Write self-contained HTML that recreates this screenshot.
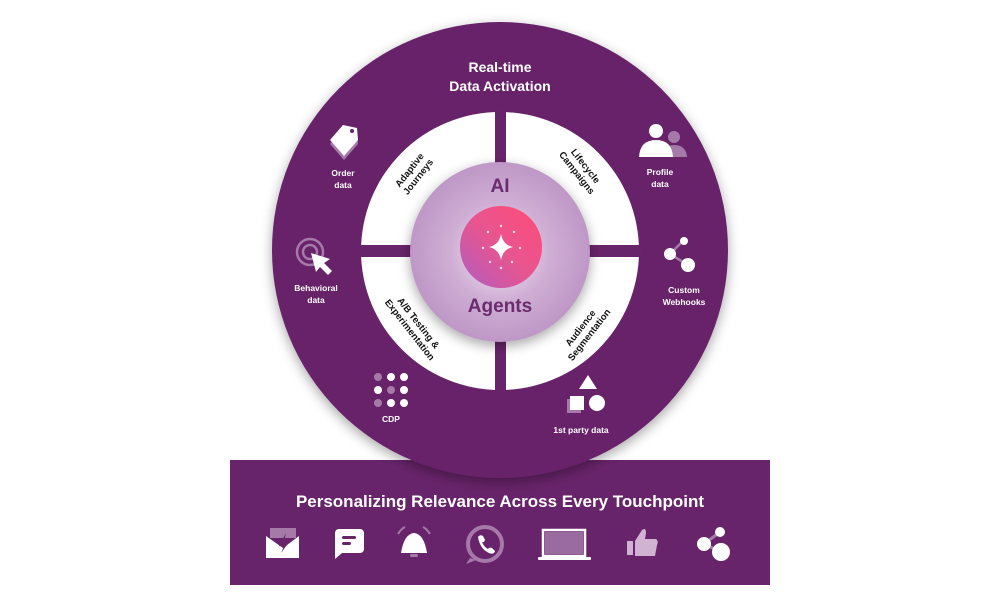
<!DOCTYPE html>
<html><head><meta charset="utf-8"><style>
html,body{margin:0;padding:0;background:#fff;width:1000px;height:600px;overflow:hidden}
svg{display:block;font-family:"Liberation Sans",sans-serif;font-weight:bold}
</style></head><body>
<svg width="1000" height="600" viewBox="0 0 1000 600">
<defs>
<radialGradient id="inner" cx="50%" cy="50%" r="50%">
<stop offset="0" stop-color="#f4ecf5"/><stop offset="0.55" stop-color="#cfaed4"/><stop offset="1" stop-color="#be97c6"/>
</radialGradient>
<linearGradient id="pink" x1="1" y1="0" x2="0" y2="1">
<stop offset="0" stop-color="#ff4b77"/><stop offset="0.5" stop-color="#e8558f"/><stop offset="1" stop-color="#b05cc0"/>
</linearGradient>
<filter id="sh" x="-20%" y="-20%" width="140%" height="140%"><feDropShadow dx="0" dy="4" stdDeviation="6" flood-color="#000" flood-opacity="0.35"/></filter>
</defs>
<rect x="230" y="460" width="540" height="125" fill="#68246a"/>
<circle cx="500" cy="250" r="228" fill="#68246a" filter="url(#sh)"/>
<circle cx="500" cy="251" r="139" fill="#fff"/>
<rect x="495" y="110" width="11" height="282" fill="#68246a"/>
<rect x="360" y="245" width="282" height="12" fill="#68246a"/>
<circle cx="500" cy="252" r="90" fill="url(#inner)" filter="url(#sh)"/>
<circle cx="501" cy="247" r="41" fill="url(#pink)"/>
<path d="M501 234 Q503 245 513 247 Q503 249 501 260 Q499 249 489 247 Q499 245 501 234Z" fill="#fff"/>
<g fill="#fff" opacity="0.8">
<circle cx="488" cy="232" r="1.2"/><circle cx="514" cy="232" r="1.2"/><circle cx="483" cy="248" r="1.2"/><circle cx="520" cy="248" r="1.2"/><circle cx="490" cy="262" r="1.2"/><circle cx="512" cy="262" r="1.2"/><circle cx="501" cy="226" r="1.2"/><circle cx="501" cy="268" r="1.2"/></g>
<text x="500" y="192" text-anchor="middle" font-size="19" fill="#6b2c6d">AI</text>
<text x="500" y="312" text-anchor="middle" font-size="19" fill="#6b2c6d">Agents</text>
<g font-size="9.5" fill="#111" text-anchor="middle">
<text transform="translate(412,172) rotate(-52)"><tspan x="0" y="0">Adaptive</tspan><tspan x="0" y="11">Journeys</tspan></text>
<text transform="translate(583,168) rotate(52)"><tspan x="0" y="0">Lifecycle</tspan><tspan x="0" y="11">Campaigns</tspan></text>
<text transform="translate(416,325) rotate(52)"><tspan x="0" y="0">A/B Testing &amp;</tspan><tspan x="0" y="11">Experimentation</tspan></text>
<text transform="translate(583,330) rotate(-52)"><tspan x="0" y="0">Audience</tspan><tspan x="0" y="11">Segmentation</tspan></text>
</g>
<g fill="#fff" text-anchor="middle">
<text x="500" y="72" font-size="14">Real-time</text>
<text x="500" y="91" font-size="14">Data Activation</text>
<g font-size="8.5">
<text x="343" y="176">Order</text><text x="343" y="188">data</text>
<text x="316" y="291">Behavioral</text><text x="316" y="303">data</text>
<text x="391" y="422">CDP</text>
<text x="660" y="175">Profile</text><text x="660" y="187">data</text>
<text x="684" y="293">Custom</text><text x="684" y="305">Webhooks</text>
<text x="581" y="433">1st  party data</text>
</g>
<text x="500" y="507" font-size="17">Personalizing Relevance Across Every Touchpoint</text>
</g>
<!-- outer icons -->
<g fill="#fff">
<path d="M330 140 L343 125 L357 128 L358 140 L344 156Z" fill="#a57aa8" transform="translate(0,4)"/>
<path d="M330 140 L343 125 L357 128 L358 140 L344 156Z"/>
<circle cx="352" cy="131" r="2" fill="#68246a"/>
<circle cx="310" cy="252" r="13" fill="none" stroke="#a57aa8" stroke-width="2.5"/>
<circle cx="310" cy="252" r="7" fill="none" stroke="#a57aa8" stroke-width="2.5"/>
<path d="M311 253 L330 259 L324 263 L332 271 L328 275 L320 267 L316 272Z"/>
<circle cx="378" cy="377" r="4" fill="#a57aa8"/><circle cx="391" cy="377" r="4"/><circle cx="404" cy="377" r="4"/>
<circle cx="378" cy="390" r="4"/><circle cx="391" cy="390" r="4" fill="#a57aa8"/><circle cx="404" cy="390" r="4"/>
<circle cx="378" cy="403" r="4" fill="#a57aa8"/><circle cx="391" cy="403" r="4"/><circle cx="404" cy="403" r="4"/>
<circle cx="674" cy="137" r="6" fill="#a57aa8"/><path d="M663 157 Q664 145 674 145 Q686 145 687 157Z" fill="#a57aa8"/>
<circle cx="656" cy="131" r="7"/><path d="M639 157 Q640 140 656 140 Q672 140 673 157Z"/>
<path d="M670 254 L682 242 M670 254 L688 265" stroke="#a57aa8" stroke-width="2.5"/>
<circle cx="670" cy="254" r="6"/><circle cx="684" cy="241" r="4"/><circle cx="688" cy="265" r="7"/>
<path d="M588 375 L597 389 L579 389Z"/>
<rect x="567" y="399" width="14" height="14" fill="#a57aa8"/><rect x="570" y="396" width="14" height="14"/>
<circle cx="597" cy="403" r="8"/>
</g>
<!-- bottom icons -->
<g fill="#fff">
<rect x="270" y="528" width="26" height="10" fill="#a57aa8"/>
<path d="M266 536 L283 548 L299 536 L299 558 L266 558Z"/>
<path d="M286 533 L279 546 L284 546 L281 553 L289 542 L284 542Z" fill="#68246a"/>
<path d="M336 529 h24 a4 4 0 0 1 4 4 v16 a4 4 0 0 1 -4 4 h-18 l-7 6 v-26 a4 4 0 0 1 4 -4Z"/>
<rect x="342" y="536" width="14" height="3" rx="1.5" fill="#68246a"/><rect x="342" y="542" width="9" height="3" rx="1.5" fill="#68246a"/>
<path d="M401 553 Q404 534 414 533 Q424 534 427 553Z"/>
<path d="M398 534 Q401 529 405 527 M430 534 Q427 529 423 527" stroke="#a57aa8" stroke-width="2" fill="none"/>
<rect x="410" y="554" width="8" height="3" rx="1.5" fill="#a57aa8"/>
<circle cx="485" cy="544" r="17" fill="none" stroke="#a57aa8" stroke-width="4"/>
<path d="M470 558 L466 564 L476 560Z" fill="#a57aa8"/>
<path d="M478 537 Q480 534 483 536 L485 540 Q484 543 482 542 Q484 547 488 549 Q489 547 492 548 L495 551 Q494 555 489 553 Q480 549 478 537Z"/>
<rect x="543" y="530" width="42" height="26" fill="none" stroke="#fff" stroke-width="2.5"/>
<rect x="545" y="532" width="38" height="22" fill="#9a6ba0"/>
<rect x="538" y="557" width="53" height="3" rx="1"/>
<rect x="627" y="541" width="6" height="14" fill="#d0b3d3"/>
<path d="M635 541 L642 530 Q646 527 646 533 L645 539 L656 539 Q659 541 657 545 L655 556 L635 556Z" fill="#d0b3d3"/>
<path d="M704 544 L720 532 M704 544 L721 552" stroke="#a57aa8" stroke-width="3"/>
<circle cx="704" cy="544" r="7"/><circle cx="720" cy="532" r="5"/><circle cx="721" cy="552" r="9"/>
</g>
</svg>
</body></html>
